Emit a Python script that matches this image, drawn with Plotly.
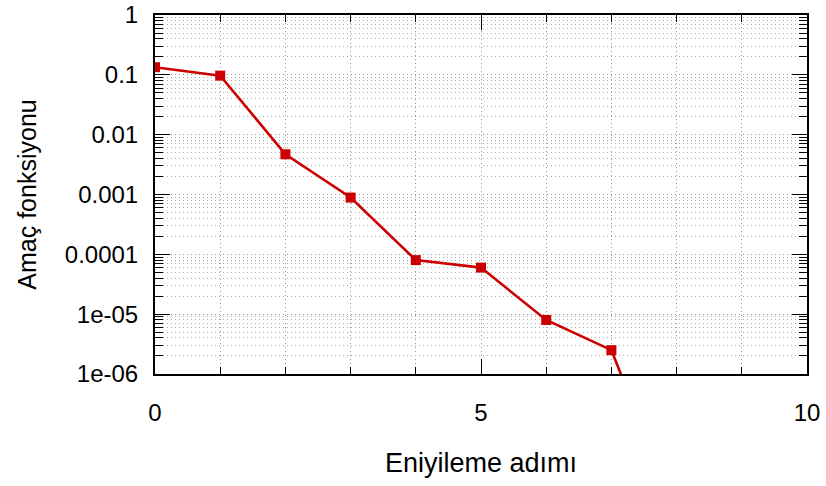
import plotly.graph_objects as go

steps = [0, 1, 2, 3, 4, 5, 6, 7, 8]
objective = [0.134, 0.097, 0.0047, 0.00089, 8.0e-05, 6.0e-05, 8.0e-06, 2.5e-06, 4.5e-09]

y_tickvals = [1, 0.1, 0.01, 0.001, 0.0001, 1e-05, 1e-06]
y_ticktext = ["1", "0.1", "0.01", "0.001", "0.0001", "1e-05", "1e-06"]
x_tickvals = [0, 5, 10]
x_ticktext = ["0", "5", "10"]
x_minor_tickvals = [1, 2, 3, 4, 6, 7, 8, 9]
y_minor_multipliers = [2, 3, 4, 5, 6, 7, 8, 9]
y_minor_tickvals = [m * d for d in y_tickvals[1:] for m in y_minor_multipliers]

RED = "#cc0000"
FONT = "Liberation Sans, Arial, Helvetica, sans-serif"
GRID = "#9a9a9a"
DOTS = "1px,3px"

fig = go.Figure()
fig.add_trace(go.Scatter(
    x=steps, y=objective, mode="lines+markers",
    line=dict(color=RED, width=2.6),
    marker=dict(symbol="square", size=10, color=RED),
    cliponaxis=True, showlegend=False,
))

fig.update_layout(
    width=826, height=486,
    margin=dict(l=155, r=19, t=15, b=112, pad=0),
    paper_bgcolor="white", plot_bgcolor="white",
    font=dict(family=FONT, size=24, color="black"),
)

fig.update_xaxes(
    range=[0, 10], automargin=False, ticklabeloverflow="allow",
    tickmode="array", tickvals=x_tickvals, ticktext=x_ticktext,
    ticks="inside", ticklen=15, tickwidth=1.3, tickcolor="black",
    showline=True, linecolor="black", linewidth=2, mirror="allticks",
    showgrid=True, gridcolor=GRID, griddash=DOTS, gridwidth=1,
    minor=dict(tickmode="array", tickvals=x_minor_tickvals,
               ticks="inside", ticklen=7, tickwidth=1.3, tickcolor="black",
               showgrid=True, gridcolor=GRID, griddash=DOTS, gridwidth=1),
    zeroline=False,
    tickfont=dict(size=24),
    ticklabelstandoff=16,
    title=dict(text="Eniyileme adımı", font=dict(size=27), standoff=28),
)

fig.update_yaxes(
    type="log", range=[-6, 0], automargin=False, ticklabeloverflow="allow",
    tickmode="array", tickvals=y_tickvals, ticktext=y_ticktext,
    ticks="inside", ticklen=15, tickwidth=1.3, tickcolor="black",
    showline=True,
    linecolor="black", linewidth=2, mirror="allticks",
    showgrid=True, gridcolor=GRID, griddash=DOTS, gridwidth=1,
    minor=dict(tickmode="array", tickvals=y_minor_tickvals,
               ticks="inside", ticklen=8, tickwidth=1.3, tickcolor="black",
               showgrid=True, gridcolor="#b0b0b0", griddash=DOTS, gridwidth=1),
    zeroline=False,
    tickfont=dict(size=24),
    ticklabelstandoff=10,
    title=dict(text="Amaç fonksiyonu", font=dict(size=25), standoff=21),
)

fig.write_html("out.html", config={"displayModeBar": False},
               post_script="document.body.style.margin='0';")
